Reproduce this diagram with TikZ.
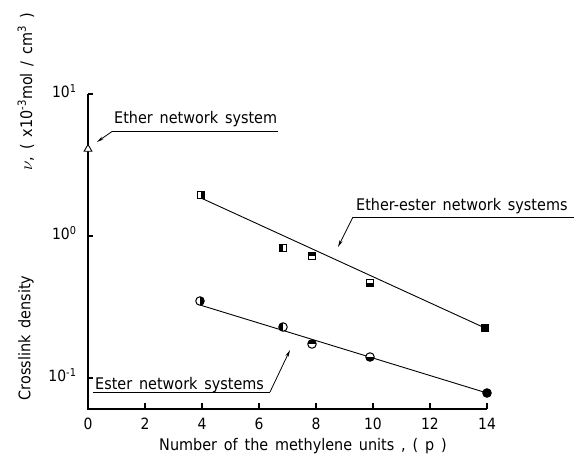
\documentclass[tikz,border=0pt]{standalone}
\usepackage{fontspec}
\setmainfont[WordSpace=1.5]{DejaVu Sans Condensed}
\usetikzlibrary{arrows.meta,shapes.geometric}
\begin{document}
\begin{tikzpicture}[x=1pt,y=-1pt,
  font=\fontsize{16}{19}\selectfont,
  axis/.style={line width=1.3pt},
  fitline/.style={line width=0.9pt},
  leader/.style={line width=0.8pt},
  tip/.style={-{Stealth[length=7pt,width=3.2pt]}},
  ticklabel/.style={font=\fontsize{15.5}{18}\selectfont},
  sqm/.style={rectangle,draw,fill=white,line width=1pt,minimum size=7pt,inner sep=0pt},
  cim/.style={circle,draw,fill=white,line width=1pt,minimum size=8.5pt,inner sep=0pt},
  fillR/.style={path picture={\fill[black] (path picture bounding box.north) rectangle (path picture bounding box.south east);}},
  fillL/.style={path picture={\fill[black] (path picture bounding box.north west) rectangle (path picture bounding box.south);}},
  fillT/.style={path picture={\fill[black] (path picture bounding box.north west) rectangle (path picture bounding box.east);}},
  fillB/.style={path picture={\fill[black] (path picture bounding box.west) rectangle (path picture bounding box.south east);}},
  full/.style={fill=black}]
\useasboundingbox (0,0) rectangle (576,458);

% axes
\coordinate (ytop) at (88,94);
\coordinate (O) at (88,409);
\coordinate (xend) at (487,409);
\draw[axis] (ytop) -- (O) -- (xend);

% y ticks (decades) and labels
\foreach \yy/\ee in {94/1,236/0,378/-1}{
  \draw[axis] (88,\yy) -- ++(5,0);
  \node[ticklabel,anchor=east] at (80,\yy-3) {10\textsuperscript{\ee}};
}

% x ticks and labels
\foreach \p in {0,2,...,14}{
  \draw[axis] ({88+28.5*\p},409) -- ++(0,-6);
  \node[ticklabel] at ({88+28.5*\p},424) {\p};
}

% axis titles
\node at (303,446) {Number of the methylene units , ( p )};
\node[rotate=90] at (26,338) {Crosslink density};
\node[rotate=90] at (26,92) {$\nu$, ( x10\textsuperscript{-3}mol / cm\textsuperscript{3} )};

% marker positions
\coordinate (pee4)  at (201,195);
\coordinate (pee7)  at (283,248);
\coordinate (pee8)  at (312,256);
\coordinate (pee10) at (370,283);
\coordinate (pee14) at (485,328);
\coordinate (pes4)  at (200,301);
\coordinate (pes7)  at (283,327);
\coordinate (pes8)  at (312,344);
\coordinate (pes10) at (370,357);
\coordinate (pes14) at (487,393);

% fitted lines
\draw[fitline] ([yshift=-3pt]pee4) -- (pee14);
\draw[fitline] ([yshift=-4pt]pes4) -- (pes14);

% ether-ester series
\node[sqm,fillR] (ee4)  at (pee4) {};
\node[sqm,fillL] (ee7)  at (pee7) {};
\node[sqm,fillT] (ee8)  at (pee8) {};
\node[sqm,fillB] (ee10) at (pee10) {};
\node[sqm,full]  (ee14) at (pee14) {};

% ester series
\node[cim,fillR] (es4)  at (pes4) {};
\node[cim,fillL] (es7)  at (pes7) {};
\node[cim,fillT] (es8)  at (pes8) {};
\node[cim,fillB] (es10) at (pes10) {};
\node[cim,full]  (es14) at (pes14) {};

% ether point
\node[draw,fill=white,regular polygon,regular polygon sides=3,minimum size=9pt,inner sep=0pt,line width=0.9pt] (eth) at (88,149) {};

% labels with leaders
\node[anchor=base west,inner sep=0pt] (lEth) at (114,123) {Ether network system};
\coordinate (uE1) at (112,131.5);
\coordinate (uE2) at (278,131.5);
\coordinate (aE) at (97,142);
\draw[leader] (uE2) -- (uE1);
\draw[leader,tip] (uE1) -- (aE);

\node[anchor=base west,inner sep=0pt] (lEE) at (356,210) {Ether-ester network systems};
\coordinate (uEE1) at (353,217);
\coordinate (uEE2) at (574,217);
\coordinate (aEE) at (338,247);
\draw[leader] (uEE2) -- (uEE1);
\draw[leader,tip] (uEE1) -- (aEE);

\node[anchor=base west,inner sep=0pt] (lEs) at (95,389) {Ester network systems};
\coordinate (uEs1) at (93,392);
\coordinate (uEs2) at (270,392);
\coordinate (aEs) at (290,350);
\draw[leader] (uEs1) -- (uEs2);
\draw[leader,tip] (uEs2) -- (aEs);
\end{tikzpicture}
\end{document}
